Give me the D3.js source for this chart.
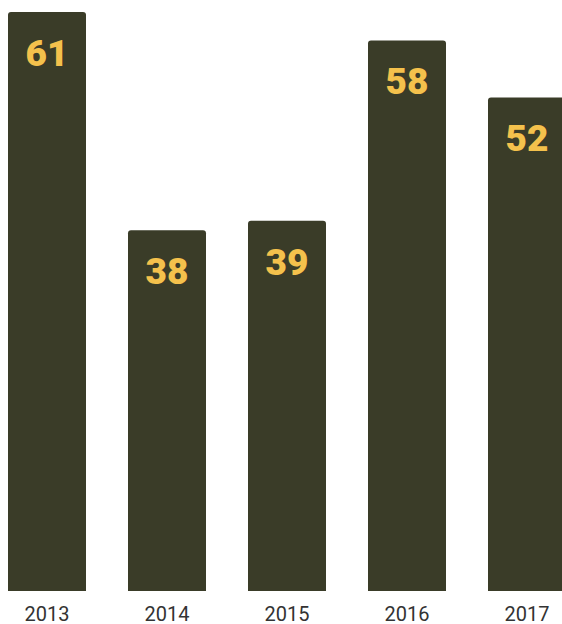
<!DOCTYPE html>
<html>
<head>
<meta charset="utf-8">
<script src="https://cdn.jsdelivr.net/npm/d3@7"></script>
<style>
  html, body { margin: 0; padding: 0; background: #fff; overflow: hidden; }
  svg { display: block; }
</style>
</head>
<body>
<svg></svg>
<script>
const years = ["2013", "2014", "2015", "2016", "2017"];
const values = [61, 38, 39, 58, 52];

const width = 562;
const height = 624;
const barColor = "#3a3c28";
const labelColor = "#f4c14c";

const svg = d3.select("svg")
  .attr("width", width)
  .attr("height", height);

const x = d3.scaleBand()
  .domain(years)
  .range([8, 566])
  .paddingInner(0.35)
  .paddingOuter(0)
  .align(0);

const y = d3.scaleLinear()
  .domain([0, 61])
  .range([591, 12]);

// bar with rounded top corners
function barPath(x0, y0, w, h, r) {
  return "M" + x0 + "," + (y0 + h) +
    "V" + (y0 + r) +
    "Q" + x0 + "," + y0 + " " + (x0 + r) + "," + y0 +
    "H" + (x0 + w - r) +
    "Q" + (x0 + w) + "," + y0 + " " + (x0 + w) + "," + (y0 + r) +
    "V" + (y0 + h) + "Z";
}

const data = years.map((yr, i) => ({ year: yr, value: values[i] }));

svg.selectAll(".bar")
  .data(data)
  .enter()
  .append("path")
  .attr("class", "bar")
  .attr("fill", barColor)
  .attr("d", d => barPath(x(d.year), y(d.value), x.bandwidth(), y(0) - y(d.value), 3));

svg.selectAll(".value")
  .data(data)
  .enter()
  .append("text")
  .attr("class", "value")
  .attr("x", d => x(d.year) + x.bandwidth() / 2)
  .attr("y", d => y(d.value) + 54)
  .attr("text-anchor", "middle")
  .attr("fill", labelColor)
  .style("font-family", "Roboto, sans-serif")
  .style("font-weight", 900)
  .style("font-size", "37px")
  .text(d => d.value);

const xAxis = d3.axisBottom(x).tickSize(0).tickPadding(0);

svg.append("g")
  .attr("transform", "translate(0," + 621 + ")")
  .call(xAxis)
  .call(g => g.select(".domain").remove())
  .selectAll("text")
  .attr("dy", "0")
  .attr("fill", "#333")
  .style("font-family", "Roboto, sans-serif")
  .style("font-size", "20px");
</script>
</body>
</html>
